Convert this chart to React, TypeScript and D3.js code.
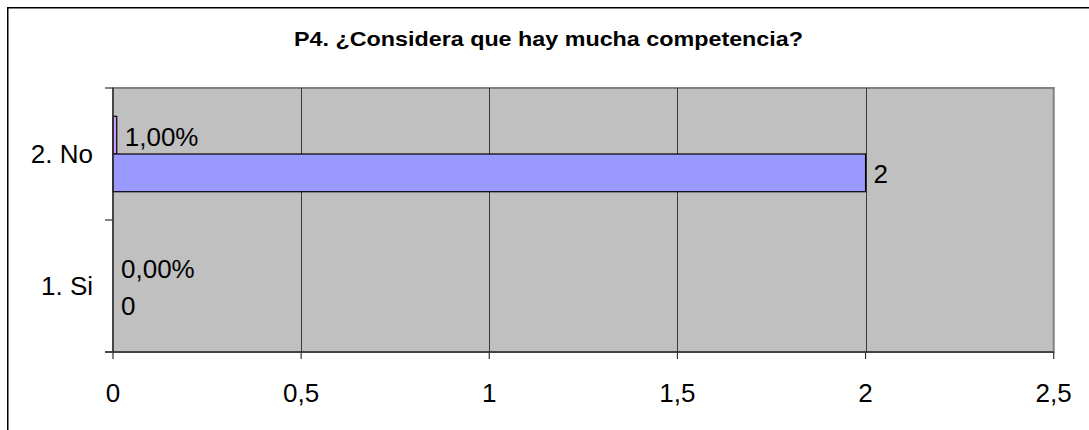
import React from "react";
import * as d3 from "d3";

// Survey answers, listed top to bottom as they appear on the axis
const categories = ["2. No", "1. Si"];
// Series 1: number of answers
const counts = [2, 0];
// Series 2: share of answers
const shares = [0.01, 0];
// Value axis ticks
const xTicks = [0, 0.5, 1, 1.5, 2, 2.5];

const TITLE = "P4. ¿Considera que hay mucha competencia?";

const W = 1089;
const H = 430;
const plot = { left: 113, right: 1053.7, top: 88, bottom: 352 };

const esLocale = d3.formatLocale({
  decimal: ",",
  thousands: ".",
  grouping: [3],
  currency: ["", " €"],
});
const fmtNum = esLocale.format("");
const fmtPct = esLocale.format(".2%");

const FONT = "'Liberation Sans', Arial, Helvetica, sans-serif";

export default function App() {
  const x = d3.scaleLinear().domain([0, 2.5]).range([plot.left, plot.right]);
  const y = d3
    .scaleBand<string>()
    .domain(categories)
    .range([plot.top, plot.bottom])
    .paddingInner(0)
    .paddingOuter(0);
  // share bar sits above the count bar inside each category band
  const sub = d3
    .scaleBand<string>()
    .domain(["share", "count"])
    .range([0, y.bandwidth()])
    .paddingInner(0)
    .paddingOuter(0.75);

  const bandEdges = [...categories.map((c) => y(c) as number), plot.bottom];

  const series = [
    { key: "share", values: shares, fill: "#CC99FF", label: (v: number) => fmtPct(v) },
    { key: "count", values: counts, fill: "#9999FF", label: (v: number) => fmtNum(v) },
  ];

  return (
    <svg
      width={W}
      height={H}
      style={{ position: "absolute", left: 0, top: 0, background: "#fff" }}
      fontFamily={FONT}
    >
      {/* chart area frame */}
      <rect x={7.75} y={7.75} width={W + 20} height={H + 20} fill="#fff" stroke="#000" strokeWidth={1.5} />

      <text
        x={548.5}
        y={45.5}
        textAnchor="middle"
        fontSize={19.5}
        fontWeight="bold"
        textLength={509}
        lengthAdjust="spacingAndGlyphs"
        fill="#000"
      >
        {TITLE}
      </text>

      {/* plot area */}
      <rect
        x={plot.left}
        y={plot.top}
        width={plot.right - plot.left}
        height={plot.bottom - plot.top}
        fill="#C0C0C0"
        stroke="#808080"
        strokeWidth={2}
      />

      {/* vertical gridlines */}
      {xTicks.slice(1, -1).map((t) => (
        <line
          key={`g${t}`}
          x1={Math.round(x(t)) + 0.5}
          x2={Math.round(x(t)) + 0.5}
          y1={plot.top}
          y2={plot.bottom}
          stroke="#3a3a3a"
          strokeWidth={1}
        />
      ))}

      {/* bars */}
      {series.map((s) =>
        categories.map((c, i) => {
          const v = s.values[i];
          const by = (y(c) as number) + (sub(s.key) as number);
          const bh = sub.bandwidth();
          const w = x(v) - x(0);
          return (
            <g key={`${s.key}-${c}`}>
              {w > 0 && (
                <rect
                  x={x(0)}
                  y={by}
                  width={w}
                  height={bh}
                  fill={s.fill}
                  stroke="#000"
                  strokeWidth={1.2}
                />
              )}
              <text
                x={x(v) + 8}
                y={by + bh / 2}
                dy="0.4em"
                fontSize={26}
                fill="#000"
              >
                {s.label(v)}
              </text>
            </g>
          );
        })
      )}

      {/* value axis */}
      <line x1={plot.left - 8} x2={plot.right} y1={plot.bottom} y2={plot.bottom} stroke="#333" strokeWidth={1.5} />
      {xTicks.map((t) => (
        <g key={`t${t}`}>
          <line
            x1={x(t)}
            x2={x(t)}
            y1={plot.bottom}
            y2={plot.bottom + 7}
            stroke="#333"
            strokeWidth={1.2}
          />
          <text x={x(t)} y={402} textAnchor="middle" fontSize={26} fill="#000">
            {fmtNum(t)}
          </text>
        </g>
      ))}

      {/* category axis */}
      <line x1={plot.left} x2={plot.left} y1={plot.top} y2={plot.bottom} stroke="#333" strokeWidth={1.5} />
      {bandEdges.map((e, i) => (
        <line
          key={`e${i}`}
          x1={plot.left - 8}
          x2={plot.left}
          y1={e}
          y2={e}
          stroke="#333"
          strokeWidth={1.2}
        />
      ))}
      {categories.map((c) => (
        <text
          key={c}
          x={plot.left - 20}
          y={(y(c) as number) + y.bandwidth() / 2}
          dy="0.36em"
          textAnchor="end"
          fontSize={26}
          fill="#000"
        >
          {c}
        </text>
      ))}
    </svg>
  );
}
